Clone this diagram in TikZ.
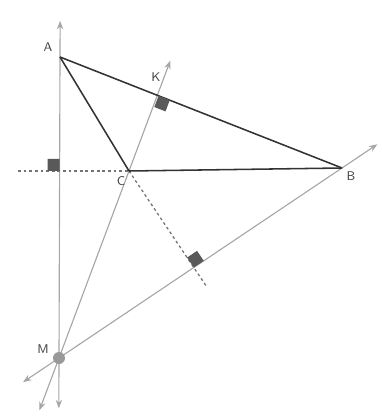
\documentclass[tikz,border=0pt]{standalone}
\usepackage{tikz}
\usetikzlibrary{calc,arrows.meta}

% filled right-angle square at #1, along #2 and #3
\newcommand{\perpmark}[3]{%
  \coordinate (ru) at ($(#1)!0.3cm!(#2)$);
  \coordinate (rv) at ($(#1)!0.3cm!(#3)$);
  \fill[sq] (#1) -- (ru) -- ($(ru)+(rv)-(#1)$) -- (rv) -- cycle;}

\begin{document}
\begin{tikzpicture}[x=0.025cm, y=-0.025cm,
    side/.style={draw=black!80, line width=1.1pt},
    ray/.style={draw=black!35, line width=0.8pt,
      {Stealth[length=6pt,width=4.5pt]}-{Stealth[length=6pt,width=4.5pt]}},
    helper/.style={draw=black!55, line width=0.9pt, dash pattern=on 2pt off 2pt},
    lbl/.style={font=\sffamily\small, text=black!75, inner sep=0pt},
    sq/.style={fill=black!65}]
    \useasboundingbox (0,0) rectangle (381,419);

    % the points
    \coordinate (A) at (60,57);
    \coordinate (B) at (342,168);
    \coordinate (C) at (129,171);
    \coordinate (M) at (59,358);

    % feet of the perpendiculars
    \coordinate (K) at ($(A)!(C)!(B)$);
    \coordinate (H) at ($(M)!(C)!(B)$);
    \coordinate (P) at ($(A)!(C)!(M)$);
    \coordinate (L) at (18,171);
    \coordinate (E) at ($(C)!1.2!(H)$);

    % lines through M
    \draw[ray] ($(M)!-0.167!(A)$) -- ($(M)!1.12!(A)$);
    \draw[ray] ($(M)!-0.28!(C)$) -- ($(M)!1.59!(C)$);
    \draw[ray] ($(M)!-0.127!(B)$) -- ($(M)!1.125!(B)$);

    % dashed helpers
    \draw[helper] (L) -- (C);
    \draw[helper] (C) -- (E);

    % triangle
    \draw[side] (A) -- (B);
    \draw[side] (A) -- (C);
    \draw[side] (C) -- (B);

    % right angles
    \perpmark{P}{A}{L}
    \perpmark{K}{B}{M}
    \perpmark{H}{B}{C}

    \fill[black!40] (M) circle[radius=0.15cm];

    % labels
    \node[lbl] (lA) at (48,47) {A};
    \node[lbl] (lK) at (156,77) {K};
    \node[lbl] (lC) at (121,181) {C};
    \node[lbl] (lB) at (351,176) {B};
    \node[lbl] (lM) at (43,349) {M};
\end{tikzpicture}
\end{document}
